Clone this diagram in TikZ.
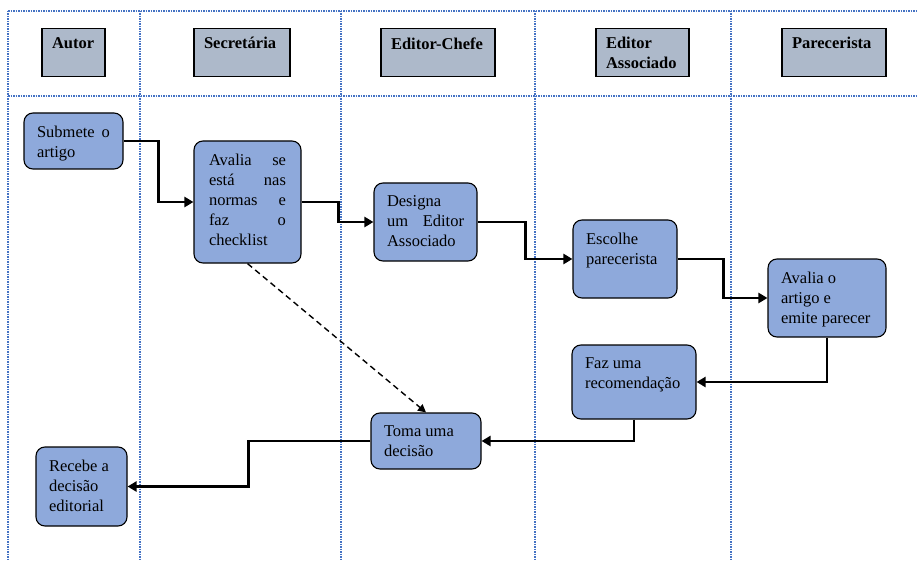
\documentclass[tikz,border=0pt]{standalone}
\usepackage{fontspec}
\setmainfont{Liberation Serif}
\usetikzlibrary{arrows.meta}
\newcommand{\boxtxt}[3]{\parbox[c][#2pt][t]{#1pt}{#3}}
\newcommand{\jl}[1]{\makebox[\linewidth][s]{#1}}
\definecolor{lanecol}{HTML}{4472C4}
\definecolor{headfill}{HTML}{ADB9CA}
\definecolor{procfill}{HTML}{8EA9DB}
\tikzset{
  lane/.style={lanecol, line width=1.2pt, dash pattern=on 1.5pt off 1pt},
  header/.style={draw, fill=headfill, line width=1.3pt, inner xsep=10pt, inner ysep=9pt,
    font=\fontsize{16.5}{20}\selectfont\bfseries},
  proc/.style={draw, fill=procfill, rounded corners=9pt, line width=1.1pt,
    inner xsep=13pt, inner ysep=13pt, font=\fontsize{16.5}{20}\selectfont},
  flow/.style={line width=2.6pt, -{Triangle[length=9pt,width=10pt]}},
  optflow/.style={line width=1.4pt, dash pattern=on 6pt off 4pt, -{Triangle[length=8pt,width=8pt]}}
}
\begin{document}
\begin{tikzpicture}[x=1pt, y=-1pt]
  \useasboundingbox (0,0) rectangle (917,561);
  % lanes
  \draw[lane] (8,11) -- (917,11);
  \draw[lane] (8,96) -- (917,96);
  \foreach \lx in {8,140,341,535,731}
    \draw[lane] (\lx,11) -- (\lx,561);
  % headers
  \node[header] (hautor) at (73.5,52.5) {\boxtxt{43}{30}{Autor}};
  \node[header] (hsecr) at (242,52.5) {\boxtxt{76}{30}{Secretária}};
  \node[header] (hchefe) at (438,52.5) {\boxtxt{94}{30}{Editor-Chefe}};
  \node[header] (hassoc) at (642.5,52.5) {\boxtxt{73}{30}{Editor\\Associado}};
  \node[header] (hparec) at (834,52.5) {\boxtxt{84}{30}{Parecerista}};
  % steps
  \node[proc] (sub) at (73.5,141) {\boxtxt{73}{30}{\jl{Submete o}\\artigo}};
  \node[proc, inner xsep=15pt] (aval) at (247.5,202)
    {\boxtxt{77}{96}{\jl{Avalia se}\\\jl{está nas}\\\jl{normas e}\\\jl{faz o}\\checklist}};
  \node[proc] (desig) at (425.5,222) {\boxtxt{77}{52}{Designa\\\jl{um Editor}\\Associado}};
  \node[proc] (esc) at (625,259) {\boxtxt{78}{52}{Escolhe\\parecerista}};
  \node[proc] (avart) at (827,298) {\boxtxt{92}{52}{Avalia o\\artigo e\\emite parecer}};
  \node[proc] (faz) at (634,382) {\boxtxt{98}{48}{Faz uma\\recomendação}};
  \node[proc] (toma) at (426,441) {\boxtxt{84}{30}{Toma uma\\decisão}};
  \node[proc] (rec) at (81.5,486.5) {\boxtxt{65}{53}{Recebe a\\decisão\\editorial}};
  % connectors
  \draw[flow] (sub.east) -- ++(35,0) |- (aval.west);
  \draw[flow] (aval.east) -- ++(37,0) |- (desig.west);
  \draw[flow] (desig.east) -- ++(48,0) |- (esc.west);
  \draw[flow] (esc.east) -- ++(46,0) |- (avart.west);
  \draw[flow] (avart.south) |- (faz.east);
  \draw[flow] (faz.south) |- (toma.east);
  \draw[flow] (toma.west) -- ++(-122,0) |- (rec.east);
  \draw[optflow] (aval.south) -- (toma.north);
\end{tikzpicture}
\end{document}
